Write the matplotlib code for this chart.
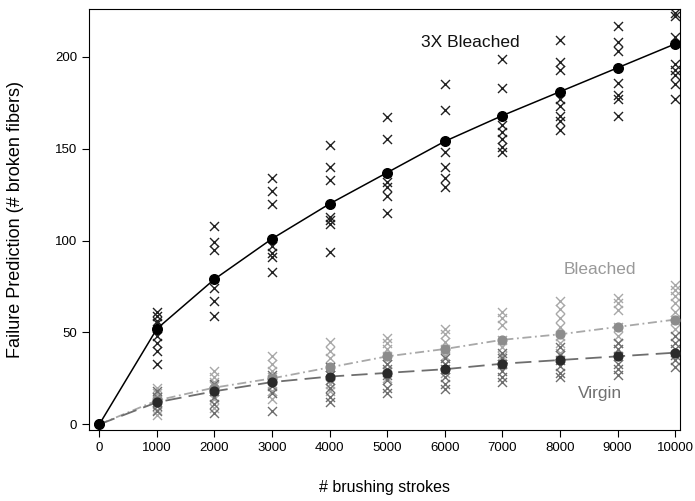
import matplotlib
matplotlib.use("Agg")
import matplotlib.pyplot as plt
import numpy as np

plt.rcParams["font.family"] = ["Liberation Sans", "DejaVu Sans"]

# brushing strokes at which samples were scored
strokes = [0, 1000, 2000, 3000, 4000, 5000, 6000, 7000, 8000, 9000, 10000]

# model means (filled circles)
mean_3x = [0, 52, 79, 101, 120, 137, 154, 168, 181, 194, 207]
mean_bleached = [0, 13, 20, 25, 31, 37, 41, 46, 49, 53, 57]
mean_virgin = [0, 12, 18, 23, 26, 28, 30, 33, 35, 37, 39]

# individual predictions (x markers), one list per stroke count (1000..10000)
pts_3x = [
    [61, 59, 56, 55, 48, 44, 40, 33],
    [108, 99, 95, 74, 67, 59],
    [134, 127, 120, 97, 93, 91, 83],
    [152, 140, 133, 113, 111, 109, 94],
    [167, 155, 132, 129, 124, 115],
    [185, 171, 148, 140, 134, 129],
    [199, 183, 163, 159, 155, 151, 148],
    [209, 197, 193, 177, 173, 168, 165, 160],
    [217, 208, 203, 186, 179, 177, 168],
    [224, 222, 211, 196, 193, 190, 185, 177],
]
pts_bleached = [
    [20, 17, 15, 13, 11, 8, 5],
    [29, 26, 23, 21, 18, 14, 9],
    [37, 33, 29, 26, 22, 18, 14],
    [45, 40, 36, 31, 27, 22, 18],
    [47, 44, 41, 37, 33, 29, 25],
    [52, 49, 45, 41, 37, 33, 28],
    [61, 58, 54, 46, 42, 37, 33],
    [67, 63, 58, 53, 48, 44, 39],
    [69, 66, 62, 53, 48, 44],
    [76, 73, 70, 66, 61, 57, 52],
]
pts_virgin = [
    [18, 15, 12, 10, 7],
    [22, 18, 15, 11, 6],
    [27, 24, 21, 17, 7],
    [31, 27, 24, 20, 15, 12],
    [33, 30, 27, 24, 20, 17],
    [36, 33, 30, 26, 22, 19],
    [39, 36, 33, 29, 26, 23],
    [42, 38, 35, 32, 28, 26],
    [44, 41, 37, 33, 30, 27],
    [48, 44, 41, 38, 35, 31],
]

C_BLEACH = "#a8a8a8"
C_VIRGIN = "#6e6e6e"

fig = plt.figure(figsize=(6.95, 5.01), dpi=100)
ax = fig.add_axes([0.128, 0.142, 0.850, 0.84])


def scatter_pts(pts, color, lw):
    for x, ys in zip(strokes[1:], pts):
        ax.scatter([x] * len(ys), ys, marker="x", s=42, color=color,
                   linewidths=lw, zorder=2)


scatter_pts(pts_bleached, C_BLEACH, 1.0)
scatter_pts(pts_virgin, C_VIRGIN, 1.0)
scatter_pts(pts_3x, "#222222", 1.0)

ax.plot(strokes, mean_bleached, color=C_BLEACH, lw=1.3, ls=(0, (5, 2, 1, 2)), zorder=3)
ax.plot(strokes, mean_virgin, color=C_VIRGIN, lw=1.3, ls=(0, (9, 4)), zorder=3)
ax.plot(strokes, mean_3x, color="black", lw=1.1, zorder=3)

ax.scatter(strokes, mean_bleached, s=40, color="#8c8c8c", zorder=4)
ax.scatter(strokes, mean_virgin, s=40, color="#2a2a2a", zorder=4)
ax.scatter(strokes, mean_3x, s=48, color="black", zorder=5)

ax.text(6450, 208, "3X Bleached", fontsize=12.5, ha="center", va="center", color="#111111")
ax.text(8700, 84, "Bleached", fontsize=12.5, ha="center", va="center", color="#999999")
ax.text(8700, 17, "Virgin", fontsize=12.5, ha="center", va="center", color="#707070")

ax.set_xlim(-180, 10080)
ax.set_ylim(-3, 226)
ax.set_xticks(strokes)
ax.set_yticks([0, 50, 100, 150, 200])
ax.tick_params(labelsize=9.5, length=5, direction="out")
ax.set_xlabel("# brushing strokes", fontsize=11.5, labelpad=19)
ax.set_ylabel("Failure Prediction (# broken fibers)", fontsize=13, labelpad=22)

fig.savefig("out.png", dpi=100)
